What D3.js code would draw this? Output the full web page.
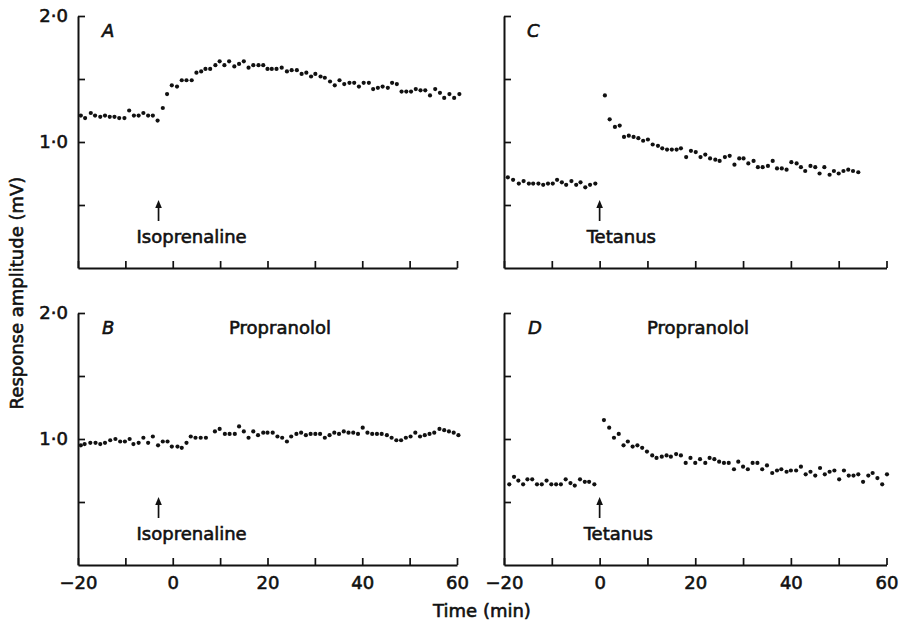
<!DOCTYPE html>
<html>
<head>
<meta charset="utf-8">
<script src="https://cdn.jsdelivr.net/npm/d3@7"></script>
<style>
  html, body { margin: 0; padding: 0; background: #fff; }
  svg { display: block; }
  text { font-family: "DejaVu Sans", sans-serif; fill: #111; }
</style>
</head>
<body>
<svg id="chart" width="904" height="622"></svg>
<script>
// ---------- data ----------
const xTickValues = [-20, -10, 0, 10, 20, 30, 40, 50, 60];
const xTickLabels = ["\u221220", "", "0", "", "20", "", "40", "", "60"];
const yTickValues = [0.5, 1.0, 1.5, 2.0];
const yTickLabels = ["", "1\u00b70", "", "2\u00b70"];

const timesA = [-19.4, -18.5, -17.3, -16.4, -15.3, -14.3, -13.3, -12.3, -11.3, -10.2,
  -9.2, -8.2, -7.2, -6.2, -5.2, -4.2, -3.2, -2.1, -1.2, -0.2,
  0.9, 1.9, 2.9, 4.0, 5.0, 6.0, 6.9, 7.9, 9.0, 9.9,
  10.9, 11.9, 13.0, 14.0, 15.0, 16.0, 17.0, 18.1, 19.1, 20.0,
  20.9, 21.9, 23.0, 24.1, 25.1, 26.2, 27.2, 28.2, 29.2, 30.1,
  31.2, 32.1, 33.2, 34.2, 35.2, 36.2, 37.3, 38.3, 39.3, 40.3,
  41.4, 42.3, 43.3, 44.3, 45.4, 46.3, 47.3, 48.3, 49.3, 50.3,
  51.3, 52.3, 53.3, 54.3, 55.4, 56.4, 57.3, 58.4, 59.4, 60.5];
const valuesA = [1.21, 1.19, 1.23, 1.21, 1.20, 1.21, 1.20, 1.20, 1.19, 1.19,
  1.25, 1.21, 1.21, 1.23, 1.21, 1.21, 1.17, 1.27, 1.38, 1.45,
  1.44, 1.49, 1.49, 1.49, 1.55, 1.56, 1.58, 1.58, 1.61, 1.64,
  1.61, 1.64, 1.60, 1.62, 1.64, 1.59, 1.61, 1.61, 1.61, 1.58,
  1.58, 1.58, 1.59, 1.56, 1.57, 1.57, 1.54, 1.55, 1.52, 1.54,
  1.52, 1.51, 1.48, 1.45, 1.49, 1.46, 1.47, 1.47, 1.44, 1.47,
  1.47, 1.42, 1.43, 1.44, 1.43, 1.47, 1.46, 1.40, 1.40, 1.40,
  1.42, 1.41, 1.41, 1.37, 1.42, 1.39, 1.35, 1.38, 1.35, 1.38];

const timesB = [-19.4, -18.6, -17.4, -16.3, -15.3, -14.3, -13.2, -12.1, -11.1, -10.1,
  -9.1, -8.3, -7.2, -6.2, -5.2, -4.2, -3.1, -2.1, -1.1, -0.2,
  1.0, 1.9, 2.9, 3.8, 4.8, 5.9, 7.0,
  8.9, 9.9, 11.0, 12.0, 13.1, 14.0, 15.0, 16.0, 17.0, 18.0,
  19.1, 20.0, 21.1, 22.1, 23.1, 24.1, 25.0, 26.1, 27.1, 28.1,
  29.1, 30.1, 31.1, 32.1, 33.1, 34.1, 35.1, 36.1, 37.1, 38.1,
  39.1, 40.1, 41.1, 42.1, 43.1, 44.1, 45.2, 46.2, 47.2, 48.2,
  49.2, 50.2, 51.2, 52.2, 53.2, 54.2, 55.2, 56.3, 57.3, 58.3,
  59.3, 60.3];
const valuesB = [0.95, 0.96, 0.97, 0.97, 0.96, 0.97, 0.99, 1.00, 0.98, 0.98,
  1.00, 0.96, 0.97, 1.01, 0.97, 1.02, 0.95, 0.98, 0.98, 0.94,
  0.94, 0.93, 0.97, 1.02, 1.01, 1.01, 1.01,
  1.06, 1.08, 1.04, 1.04, 1.04, 1.10, 1.06, 1.01, 1.06, 1.03,
  1.05, 1.05, 1.05, 1.02, 1.01, 0.98, 1.02, 1.04, 1.05, 1.03,
  1.04, 1.04, 1.04, 1.01, 1.03, 1.05, 1.04, 1.06, 1.05, 1.05,
  1.04, 1.09, 1.05, 1.04, 1.04, 1.04, 1.03, 1.01, 0.99, 0.99,
  1.01, 1.02, 1.05, 1.02, 1.03, 1.04, 1.05, 1.08, 1.07, 1.06,
  1.05, 1.03];

const timesC = [-19.2, -18.1, -16.9, -15.9, -14.8, -13.9, -12.8, -11.8, -10.8, -9.8,
  -8.9, -7.9, -7.0, -5.9, -4.9, -4.0, -3.0, -2.0, -0.9,
  1.1, 2.1, 3.2, 4.2, 5.1, 6.1, 7.1, 8.1, 9.1, 10.1,
  11.1, 12.2, 13.1, 14.1, 15.1, 16.1, 17.0, 18.1, 19.1, 20.1,
  21.1, 22.1, 23.1, 24.2, 25.1, 26.2, 27.2, 28.2, 29.2, 30.1,
  31.1, 32.2, 33.1, 34.1, 35.2, 36.2, 37.1, 38.1, 39.1, 40.1,
  41.2, 42.1, 43.0, 44.1, 45.1, 46.0, 47.0, 48.1, 49.0, 50.0,
  51.0, 52.0, 53.0, 54.1];
const valuesC = [0.72, 0.70, 0.67, 0.69, 0.67, 0.67, 0.67, 0.66, 0.67, 0.67,
  0.70, 0.68, 0.66, 0.69, 0.66, 0.68, 0.64, 0.66, 0.67,
  1.37, 1.18, 1.12, 1.13, 1.04, 1.05, 1.04, 1.03, 1.01, 1.02,
  0.98, 0.97, 0.95, 0.94, 0.94, 0.94, 0.95, 0.88, 0.93, 0.92,
  0.88, 0.90, 0.87, 0.86, 0.85, 0.88, 0.89, 0.82, 0.87, 0.87,
  0.83, 0.85, 0.80, 0.80, 0.81, 0.85, 0.79, 0.79, 0.78, 0.84,
  0.83, 0.80, 0.77, 0.81, 0.80, 0.75, 0.80, 0.74, 0.77, 0.75,
  0.77, 0.78, 0.77, 0.76];

const timesD = [-18.9, -17.9, -17.0, -16.0, -15.1, -14.1, -13.1, -12.1, -11.1, -10.1,
  -9.1, -8.1, -7.1, -6.1, -5.2, -4.1, -3.1, -2.2, -1.1,
  0.9, 2.0, 3.0, 4.0, 5.0, 5.9, 6.9, 7.9, 8.9, 9.9,
  11.0, 11.9, 13.0, 14.0, 14.9, 16.0, 17.0, 18.0, 19.0, 20.0,
  21.0, 22.1, 23.0, 24.0, 25.0, 26.0, 27.0, 28.1, 29.0, 30.0,
  31.0, 32.0, 33.0, 34.0, 35.0, 36.1, 37.1, 38.0, 39.1, 40.0,
  41.1, 42.1, 43.1, 44.1, 45.1, 46.1, 47.1, 48.1, 49.1, 50.1,
  51.1, 52.1, 53.1, 54.1, 55.1, 56.2, 57.1, 58.1, 59.1, 60.1];
const valuesD = [0.64, 0.70, 0.67, 0.64, 0.68, 0.68, 0.64, 0.64, 0.67, 0.64,
  0.64, 0.64, 0.68, 0.65, 0.63, 0.68, 0.66, 0.66, 0.64,
  1.15, 1.09, 1.01, 1.04, 0.95, 0.98, 0.94, 0.95, 0.93, 0.90,
  0.87, 0.85, 0.86, 0.87, 0.86, 0.88, 0.87, 0.81, 0.85, 0.81,
  0.84, 0.81, 0.85, 0.84, 0.82, 0.81, 0.81, 0.76, 0.82, 0.78,
  0.76, 0.81, 0.81, 0.76, 0.79, 0.73, 0.75, 0.76, 0.74, 0.75,
  0.75, 0.78, 0.72, 0.74, 0.71, 0.77, 0.72, 0.74, 0.75, 0.68,
  0.75, 0.71, 0.71, 0.72, 0.66, 0.71, 0.73, 0.69, 0.64, 0.72];

const panelLetters = ["A", "B", "C", "D"];
const stimulusLabels = ["Isoprenaline", "Isoprenaline", "Tetanus", "Tetanus"];
const stimulusTimes = [-3, -3, 0, 0];
const conditionLabels = ["", "Propranolol", "", "Propranolol"];

// ---------- layout ----------
const svg = d3.select("#chart");
svg.append("rect").attr("width", 904).attr("height", 622).attr("fill", "#fff");

const panels = [
  { times: timesA, values: valuesA, x0: 78,  x1: 457,   yTop: 16,  yBot: 268, left: true,  bottom: false, letterDx: 24, condDx: 0,   labelDx: -22 },
  { times: timesB, values: valuesB, x0: 78,  x1: 457,   yTop: 313, yBot: 565, left: true,  bottom: true,  letterDx: 24, condDx: 202, labelDx: -22 },
  { times: timesC, values: valuesC, x0: 504, x1: 886.5, yTop: 16,  yBot: 268, left: false, bottom: false, letterDx: 23, condDx: 0,   labelDx: -13 },
  { times: timesD, values: valuesD, x0: 504, x1: 886.5, yTop: 313, yBot: 565, left: false, bottom: true,  letterDx: 24, condDx: 194, labelDx: -16 }
];

const FONT = 18;
const TXT_STROKE = 0.6;

panels.forEach((p, i) => {
  const x = d3.scaleLinear().domain([-20, 60]).range([p.x0, p.x1]);
  const y = d3.scaleLinear().domain([0, 2]).range([p.yBot, p.yTop]);
  const g = svg.append("g");

  // y axis
  const yAxis = d3.axisLeft(y)
    .tickValues(yTickValues)
    .tickSizeInner(-7).tickSizeOuter(0).tickPadding(10)
    .tickFormat((d, k) => p.left ? yTickLabels[k] : "");
  const ya = g.append("g").attr("transform", `translate(${p.x0},0)`).call(yAxis);

  // x axis
  const xAxis = d3.axisBottom(x)
    .tickValues(xTickValues)
    .tickSizeInner(-7).tickSizeOuter(0).tickPadding(11)
    .tickFormat((d, k) => p.bottom ? xTickLabels[k] : "");
  const xa = g.append("g").attr("transform", `translate(0,${p.yBot})`).call(xAxis);

  [ya, xa].forEach(a => {
    a.selectAll(".domain").attr("stroke", "#111").attr("stroke-width", 2);
    a.selectAll(".tick line").attr("stroke", "#111").attr("stroke-width", 1.7);
    a.selectAll(".tick text")
      .attr("font-family", "DejaVu Sans").attr("font-size", FONT)
      .attr("fill", "#111").attr("stroke", "#111").attr("stroke-width", TXT_STROKE);
  });

  // points
  g.append("g").selectAll("circle")
    .data(d3.zip(p.times, p.values))
    .join("circle")
    .attr("cx", d => x(d[0]))
    .attr("cy", d => y(d[1]))
    .attr("r", 2.1)
    .attr("fill", "#111");

  // panel letter
  g.append("text")
    .attr("x", p.x0 + p.letterDx)
    .attr("y", p.yTop + 21)
    .attr("font-size", FONT)
    .attr("font-style", "italic")
    .attr("stroke", "#111").attr("stroke-width", TXT_STROKE)
    .text(panelLetters[i]);

  // condition label
  if (conditionLabels[i]) {
    g.append("text")
      .attr("x", p.x0 + p.condDx)
      .attr("y", p.yTop + 21)
      .attr("text-anchor", "middle")
      .attr("font-size", FONT)
      .attr("stroke", "#111").attr("stroke-width", TXT_STROKE)
      .text(conditionLabels[i]);
  }

  // stimulus arrow
  const ax = x(stimulusTimes[i]);
  const ay = y(0.5);
  g.append("line")
    .attr("x1", ax).attr("x2", ax)
    .attr("y1", ay - 1).attr("y2", ay + 16)
    .attr("stroke", "#111").attr("stroke-width", 1.7);
  g.append("path")
    .attr("d", `M${ax},${ay - 5} L${ax - 3.3},${ay + 3} L${ax + 3.3},${ay + 3} Z`)
    .attr("fill", "#111");
  g.append("text")
    .attr("x", ax + p.labelDx)
    .attr("y", ay + 38)
    .attr("font-size", FONT)
    .attr("stroke", "#111").attr("stroke-width", TXT_STROKE)
    .text(stimulusLabels[i]);
});

// shared axis titles
svg.append("text")
  .attr("transform", "translate(23,293) rotate(-90)")
  .attr("text-anchor", "middle")
  .attr("font-size", FONT)
  .attr("stroke", "#111").attr("stroke-width", TXT_STROKE)
  .text("Response amplitude (mV)");

svg.append("text")
  .attr("x", 482)
  .attr("y", 617)
  .attr("text-anchor", "middle")
  .attr("font-size", FONT)
  .attr("stroke", "#111").attr("stroke-width", TXT_STROKE)
  .text("Time (min)");
</script>
</body>
</html>
